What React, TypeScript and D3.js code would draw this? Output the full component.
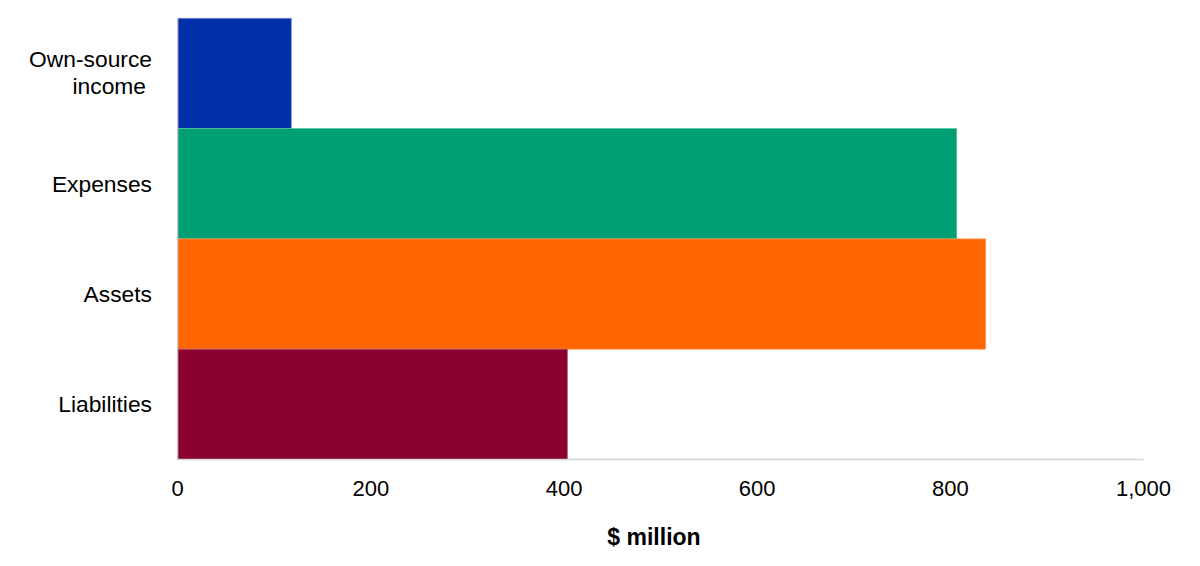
import React from "react";
import * as d3 from "d3";

const categories = ["Own-source income", "Expenses", "Assets", "Liabilities"];
const values = [117.6, 806.6, 836.6, 403.4];
const colors = ["#002FA7", "#009E73", "#FF6600", "#8A002E"];
const strokes = ["#6f86d6", "#55c4a0", "#ff9a5a", "#b0506d"];
const xTicks = [0, 200, 400, 600, 800, 1000];

const W = 1200;
const H = 566;
const left = 177.7;
const right = 1143.5;
const top = 18.3;
const bottom = 459.5;

export default function App() {
  const x = d3.scaleLinear().domain([0, 1000]).range([left, right]);
  const y = d3.scaleBand().domain(categories).range([top, bottom]).padding(0);
  const fmt = d3.format(",");
  const font = "'Liberation Sans', Arial, sans-serif";
  return (
    <svg width={W} height={H} style={{ position: "absolute", left: 0, top: 0, background: "#fff" }}>
      {categories.map((c, i) => (
        <rect
          key={c}
          x={x(0)}
          y={y(c)!}
          width={x(values[i]) - x(0)}
          height={y.bandwidth()}
          fill={colors[i]}
          stroke={strokes[i]}
          strokeWidth={0.8}
        />
      ))}
      <line x1={left} x2={left} y1={top} y2={bottom} stroke="#c8c8c8" strokeWidth={1.2} />
      <line x1={left} x2={right} y1={bottom} y2={bottom} stroke="#d4d4d4" strokeWidth={1.5} />
      {xTicks.map((t) => (
        <text key={t} x={x(t)} y={496} textAnchor="middle" fontFamily={font} fontSize={22} fill="#000">
          {fmt(t)}
        </text>
      ))}
      {categories.map((c) => {
        const cy = y(c)! + y.bandwidth() / 2;
        if (c === "Own-source income") {
          return (
            <text key={c} textAnchor="end" fontFamily={font} fontSize={22.8} fill="#000">
              <tspan x={152} y={cy - 6.5}>Own-source</tspan>
              <tspan x={146} y={cy + 20.2}>income</tspan>
            </text>
          );
        }
        return (
          <text key={c} x={152} y={cy + 8} textAnchor="end" fontFamily={font} fontSize={22.8} fill="#000">
            {c}
          </text>
        );
      })}
      <text x={654} y={545} textAnchor="middle" fontFamily={font} fontSize={23} fontWeight="bold" fill="#000">
        $ million
      </text>
    </svg>
  );
}
